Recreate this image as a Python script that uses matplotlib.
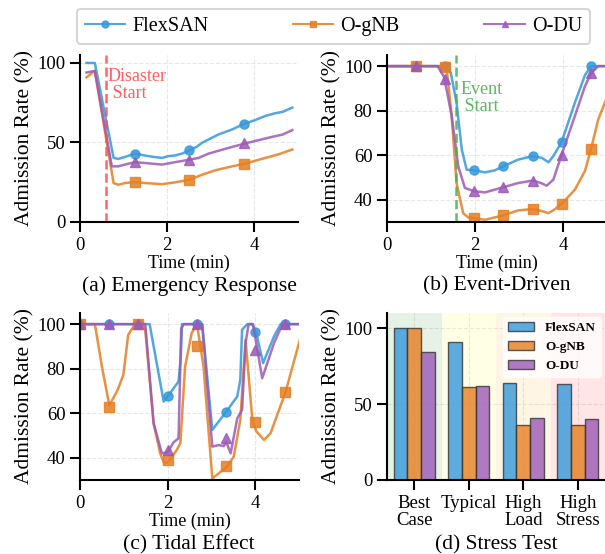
import matplotlib.pyplot as plt
import numpy as np
from matplotlib.lines import Line2D

plt.rcParams['font.family'] = ['Liberation Serif', 'DejaVu Serif']

methods = ['FlexSAN', 'O-gNB', 'O-DU']
colors = ['#3498db', '#e67e22', '#9b59b6']
markers = ['o', 's', '^']

# (a) Emergency Response
a_t = [[0.15, 0.34, 0.77, 0.88, 1.03, 1.26, 1.49, 1.69, 1.88, 2.03, 2.18, 2.34, 2.51, 2.68, 2.80,
        3.18, 3.49, 3.79, 4.02, 4.25, 4.48, 4.64, 4.87],
       [0.15, 0.34, 0.77, 0.88, 1.03, 1.26, 1.49, 1.88, 2.18, 2.51, 2.80, 3.10, 3.49, 3.79, 4.17,
        4.56, 4.87],
       [0.15, 0.34, 0.73, 0.88, 1.03, 1.26, 1.49, 1.88, 2.18, 2.51, 2.72, 2.95, 3.33, 3.79, 4.10,
        4.48, 4.64, 4.87]]
a_val = [[100, 100, 40.3, 39.7, 40.9, 43.0, 41.8, 40.9, 40.3, 41.4, 41.8, 43.0, 45.1, 47.3, 49.8,
          55.1, 58.2, 62.0, 64.1, 66.7, 68.4, 69.2, 71.9],
         [91, 95, 24.5, 23.4, 24.5, 25.1, 24.5, 23.8, 24.9, 26.6, 29.7, 32.5, 35.0, 36.7, 39.7,
          42.6, 45.6],
         [94, 95, 35.0, 35.0, 36.1, 37.6, 37.1, 36.1, 37.6, 39.2, 40.3, 43.0, 46.0, 49.4, 51.5,
          54.0, 54.9, 57.8]]
a_mark_t = [1.25, 2.5, 3.75]
a_mark_val = [[43.0, 45.1, 61.8], [25.1, 26.6, 36.7], [37.6, 39.2, 49.8]]
disaster_t = 0.6

# (b) Event-Driven
b_t = [[0, 1.32, 1.45, 1.58, 1.70, 1.81, 1.98, 2.23, 2.45, 2.64, 2.98, 3.31, 3.52, 3.67, 3.78,
        3.97, 4.27, 4.50, 4.64, 5.0],
       [0, 1.35, 1.47, 1.58, 1.73, 1.85, 1.98, 2.23, 2.64, 2.98, 3.31, 3.50, 3.67, 3.80, 3.97,
        4.27, 4.50, 4.64, 4.80, 5.0],
       [0, 1.15, 1.30, 1.47, 1.62, 1.77, 1.98, 2.23, 2.64, 2.98, 3.31, 3.50, 3.63, 3.78, 3.97,
        4.27, 4.50, 4.64, 4.80, 5.0]]
b_val = [[100, 100, 97, 83.6, 62.5, 53.5, 53.2, 52.3, 53.2, 55.0, 58.0, 59.6, 58.8, 56.8, 59.6,
          66.0, 83.6, 96.0, 100, 100],
         [100, 100, 77.6, 47.5, 34.0, 32.0, 31.7, 31.0, 33.0, 35.2, 35.8, 35.0, 34.0, 35.5, 38.2,
          44.5, 53.0, 63.0, 76.0, 86.0],
         [100, 100, 95, 77.6, 55.0, 45.3, 43.8, 43.3, 45.6, 47.5, 48.6, 47.5, 46.3, 49.0, 60.3,
          77.6, 91.0, 96.8, 100, 100]]
b_mark_t = [0.66, 1.32, 1.98, 2.64, 3.31, 3.97, 4.64]
b_mark_val = [[100, 100, 53.2, 55.0, 59.6, 66.0, 100],
              [100, 99.4, 31.7, 33.0, 35.8, 38.2, 63.0],
              [100, 94.1, 43.8, 45.6, 48.6, 60.3, 96.8]]
event_t = 1.57

# (c) Tidal Effect
c_t = [[0, 1.59, 1.91, 2.0, 2.25, 2.30, 2.33, 2.79, 3.02, 3.34, 3.59, 3.66, 3.70, 3.82, 3.93,
        4.02, 4.18, 4.43, 4.58, 5.0],
       [0, 0.34, 0.50, 0.67, 0.85, 0.99, 1.10, 1.26, 1.40, 1.49, 1.68, 1.83, 1.92, 2.02, 2.21,
        2.29, 2.40, 2.55, 2.67, 2.82, 3.02, 3.36, 3.51, 3.66, 3.78, 3.93, 4.02, 4.20, 4.35,
        4.69, 5.02],
       [0, 1.49, 1.68, 1.87, 2.0, 2.14, 2.25, 2.31, 2.37, 2.79, 3.02, 3.17, 3.28, 3.34, 3.44,
        3.59, 3.70, 3.78, 3.85, 3.95, 4.16, 4.43, 4.62, 5.0]]
c_val = [[100, 100, 65.2, 67.5, 74.2, 85, 100, 100, 52.5, 60.7, 67.5, 75, 97.5, 100, 100,
          96.4, 82.5, 94.5, 100, 100],
         [100, 100, 81, 63.5, 70, 77.2, 95.2, 100, 100, 97.5, 55.5, 42, 37.5, 38.2, 43.5,
          46.5, 81, 96, 100, 81, 30.7, 36, 40.5, 57, 93, 58, 52, 48, 51,
          69.3, 93],
         [100, 100, 55.5, 42, 42.5, 47, 48.7, 98, 100, 100, 45, 45.7, 45.2, 47, 42,
          57.7, 61.5, 91.5, 100, 100, 75.7, 91.5, 100, 100]]
c_mark_t = [0, 0.67, 1.33, 2.0, 2.67, 3.33, 4.0, 4.67]
c_mark_val = [[100, 100, 100, 67.5, 100, 60.7, 96.4, 100],
              [100, 63, 100, 38.9, 90.2, 36.4, 56, 69.3],
              [100, 100, 100, 43.5, 100, 48.7, 88.5, 100]]

# (d) Stress Test
scenarios = ['Best\nCase', 'Typical', 'High\nLoad', 'High\nStress']
stress_vals = [[100, 91, 64, 63],
               [100, 61, 36, 36],
               [84, 62, 41, 40]]
bg_colors = ['green', 'yellow', 'orange', 'red']


def style_axis(ax, ylim, yticks):
    ax.set_xlim(0, 5)
    ax.set_ylim(*ylim)
    ax.set_xticks([0, 2, 4])
    ax.set_yticks(yticks)
    ax.grid(True, linestyle='--', alpha=0.3)
    ax.spines['top'].set_visible(False)
    ax.spines['right'].set_visible(False)
    for s in ['left', 'bottom']:
        ax.spines[s].set_linewidth(1.5)
    ax.tick_params(axis='both', labelsize=13.5, length=7, width=1.5)
    ax.set_xlabel('Time (min)', fontsize=13, labelpad=0.5)
    ax.set_ylabel('Admission Rate (%)', fontsize=15.5, labelpad=2)


def plot_lines(ax, ts, vals, mark_t, mark_vals):
    for i in range(3):
        ax.plot(ts[i], vals[i], color=colors[i], linewidth=1.8, alpha=0.85)
        ax.plot(mark_t, mark_vals[i], linestyle='none', marker=markers[i], color=colors[i],
                markersize=6.5, alpha=0.85)


fig = plt.figure(figsize=(6.05, 5.54), dpi=100)
W, H = 605.0, 554.0
ax_a = fig.add_axes([80 / W, (H - 222) / H, 218 / W, 167 / H])
ax_b = fig.add_axes([387 / W, (H - 222) / H, 220 / W, 167 / H])
ax_c = fig.add_axes([80 / W, (H - 480) / H, 219 / W, 167 / H])
ax_d = fig.add_axes([387 / W, (H - 480) / H, 218 / W, 167 / H])

plot_lines(ax_a, a_t, a_val, a_mark_t, a_mark_val)
style_axis(ax_a, (0, 105), [0, 50, 100])
ax_a.axvline(disaster_t, color='#ff4d4d', linestyle='--', linewidth=1.8, alpha=0.85)
ax_a.text(disaster_t + 0.04, 86, 'Disaster\n Start', color='#ff4d4d', fontsize=13,
          ha='left', va='center', linespacing=1.0, alpha=0.9)

plot_lines(ax_b, b_t, b_val, b_mark_t, b_mark_val)
style_axis(ax_b, (30, 105), [40, 60, 80, 100])
ax_b.axvline(event_t, color='#4caf50', linestyle='--', linewidth=1.8, alpha=0.85)
ax_b.text(event_t + 0.1, 85.5, 'Event\n Start', color='#4caf50', fontsize=13,
          ha='left', va='center', linespacing=1.0, alpha=0.9)

plot_lines(ax_c, c_t, c_val, c_mark_t, c_mark_val)
style_axis(ax_c, (30, 105), [40, 60, 80, 100])

# stress test bars
x = np.arange(len(scenarios))
width = 0.25
for i, c in enumerate(bg_colors):
    ax_d.axvspan(i - 0.5, i + 0.5, color=c, alpha=0.1, linewidth=0)
for i in range(3):
    ax_d.bar(x + (i - 1) * width, stress_vals[i], width, color=colors[i], alpha=0.8,
             edgecolor='#333333', linewidth=1.0, label=methods[i])
ax_d.set_xlim(-0.5, 3.5)
ax_d.set_ylim(0, 110)
ax_d.set_yticks([0, 50, 100])
ax_d.set_xticks(x)
ax_d.set_xticklabels(scenarios, linespacing=1.0)
ax_d.grid(True, linestyle='--', alpha=0.3)
ax_d.set_axisbelow(True)
ax_d.spines['top'].set_visible(False)
ax_d.spines['right'].set_visible(False)
for s in ['left', 'bottom']:
    ax_d.spines[s].set_linewidth(1.5)
ax_d.tick_params(axis='both', labelsize=13.5, length=7, width=1.5)
ax_d.set_ylabel('Admission Rate (%)', fontsize=15.5, labelpad=2)
leg_d = ax_d.legend(loc='upper right', prop={'family': 'Liberation Serif', 'weight': 'bold', 'size': 9.5},
                    framealpha=0.8, edgecolor='white', borderaxespad=0.3)

# captions
fig.text(189 / W, 1 - 286 / H, '(a) Emergency Response', fontsize=15.5, ha='center', va='center')
fig.text(497 / W, 1 - 286 / H, '(b) Event-Driven', fontsize=15.5, ha='center', va='center')
fig.text(189 / W, 1 - 545 / H, '(c) Tidal Effect', fontsize=15.5, ha='center', va='center')
fig.text(496 / W, 1 - 545 / H, '(d) Stress Test', fontsize=15.5, ha='center', va='center')

# shared legend on top
handles = [Line2D([0], [0], color=colors[i], marker=markers[i], markersize=5, linewidth=1.5,
                  alpha=0.85) for i in range(3)]
leg = fig.legend(handles, methods, loc='upper center', ncol=3, mode='expand',
                 bbox_to_anchor=(77 / W, 0, 513 / W, 1 - 9 / H), borderaxespad=0,
                 fontsize=14.5, frameon=True, fancybox=True, edgecolor='0.8',
                 handletextpad=0.35)
leg.get_frame().set_linewidth(1.5)

plt.savefig('out.png', dpi=100)
plt.close()
